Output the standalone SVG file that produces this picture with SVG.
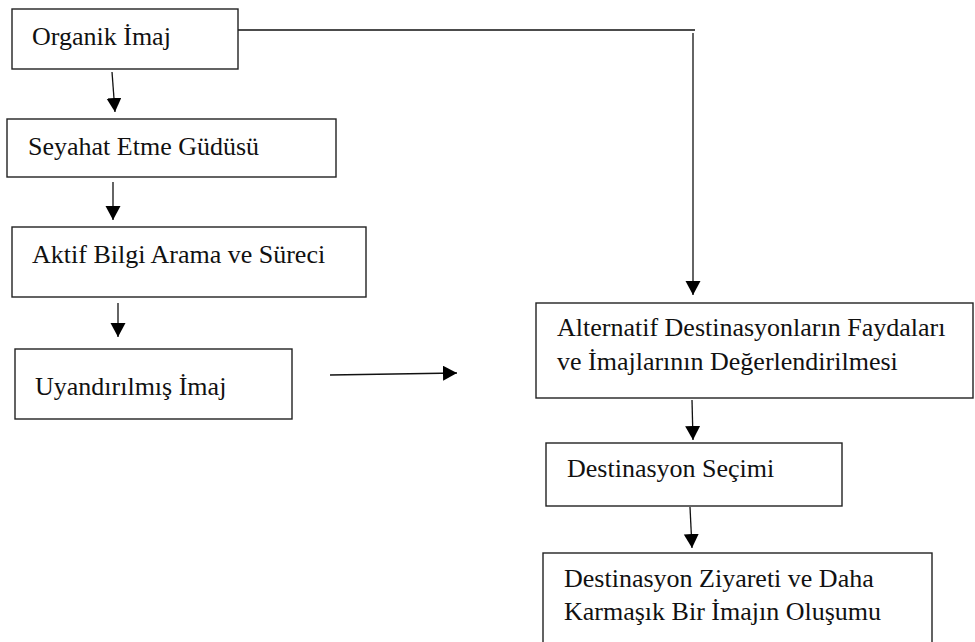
<svg xmlns="http://www.w3.org/2000/svg" width="975" height="642" viewBox="0 0 975 642">
  <style>
    .box { fill: #fff; stroke: #222; stroke-width: 1.4; }
    .lbl { font-family: "Liberation Serif", "Times New Roman", serif; font-size: 26px; fill: #111; }
    .wire { fill: none; stroke: #111; stroke-width: 1.3; }
  </style>
  <defs>
    <marker id="head" markerUnits="userSpaceOnUse" markerWidth="16" markerHeight="16" refX="14" refY="7.5" orient="auto">
      <path d="M0,0 L14,7.5 L0,15 z" fill="#000"/>
    </marker>
  </defs>
  <rect width="975" height="642" fill="#fff"/>

  <g id="connectors">
    <line class="wire" x1="112" y1="72" x2="115" y2="112" marker-end="url(#head)"/>
    <line class="wire" x1="113" y1="182" x2="113" y2="220" marker-end="url(#head)"/>
    <line class="wire" x1="118" y1="303" x2="118" y2="337" marker-end="url(#head)"/>
    <line class="wire" x1="330" y1="375" x2="457" y2="373" marker-end="url(#head)"/>
    <line class="wire" x1="238" y1="30" x2="695" y2="30"/>
    <line class="wire" x1="693" y1="33" x2="693" y2="295" marker-end="url(#head)"/>
    <line class="wire" x1="692" y1="400" x2="693" y2="440" marker-end="url(#head)"/>
    <line class="wire" x1="690" y1="507" x2="692" y2="548" marker-end="url(#head)"/>
  </g>

  <g id="organik-imaj">
    <rect class="box" x="12" y="9" width="226" height="60"/>
    <text class="lbl" x="32" y="45">Organik İmaj</text>
  </g>

  <g id="seyahat-etme-gudusu">
    <rect class="box" x="7" y="119" width="329" height="58"/>
    <text class="lbl" x="28" y="155">Seyahat Etme Güdüsü</text>
  </g>

  <g id="aktif-bilgi-arama">
    <rect class="box" x="12" y="227" width="354" height="70"/>
    <text class="lbl" x="32" y="263">Aktif Bilgi Arama ve Süreci</text>
  </g>

  <g id="uyandirilmis-imaj">
    <rect class="box" x="15" y="349" width="277" height="70"/>
    <text class="lbl" x="35" y="395">Uyandırılmış İmaj</text>
  </g>

  <g id="alternatif-destinasyonlar">
    <rect class="box" x="536" y="303" width="437" height="95"/>
    <text class="lbl" x="557" y="336">Alternatif Destinasyonların Faydaları</text>
    <text class="lbl" x="557" y="370">ve İmajlarının Değerlendirilmesi</text>
  </g>

  <g id="destinasyon-secimi">
    <rect class="box" x="546" y="443" width="296" height="63"/>
    <text class="lbl" x="567" y="477">Destinasyon Seçimi</text>
  </g>

  <g id="destinasyon-ziyareti">
    <rect class="box" x="543" y="553" width="389" height="110"/>
    <text class="lbl" x="564" y="587">Destinasyon Ziyareti ve Daha</text>
    <text class="lbl" x="564" y="620">Karmaşık Bir İmajın Oluşumu</text>
  </g>
</svg>
